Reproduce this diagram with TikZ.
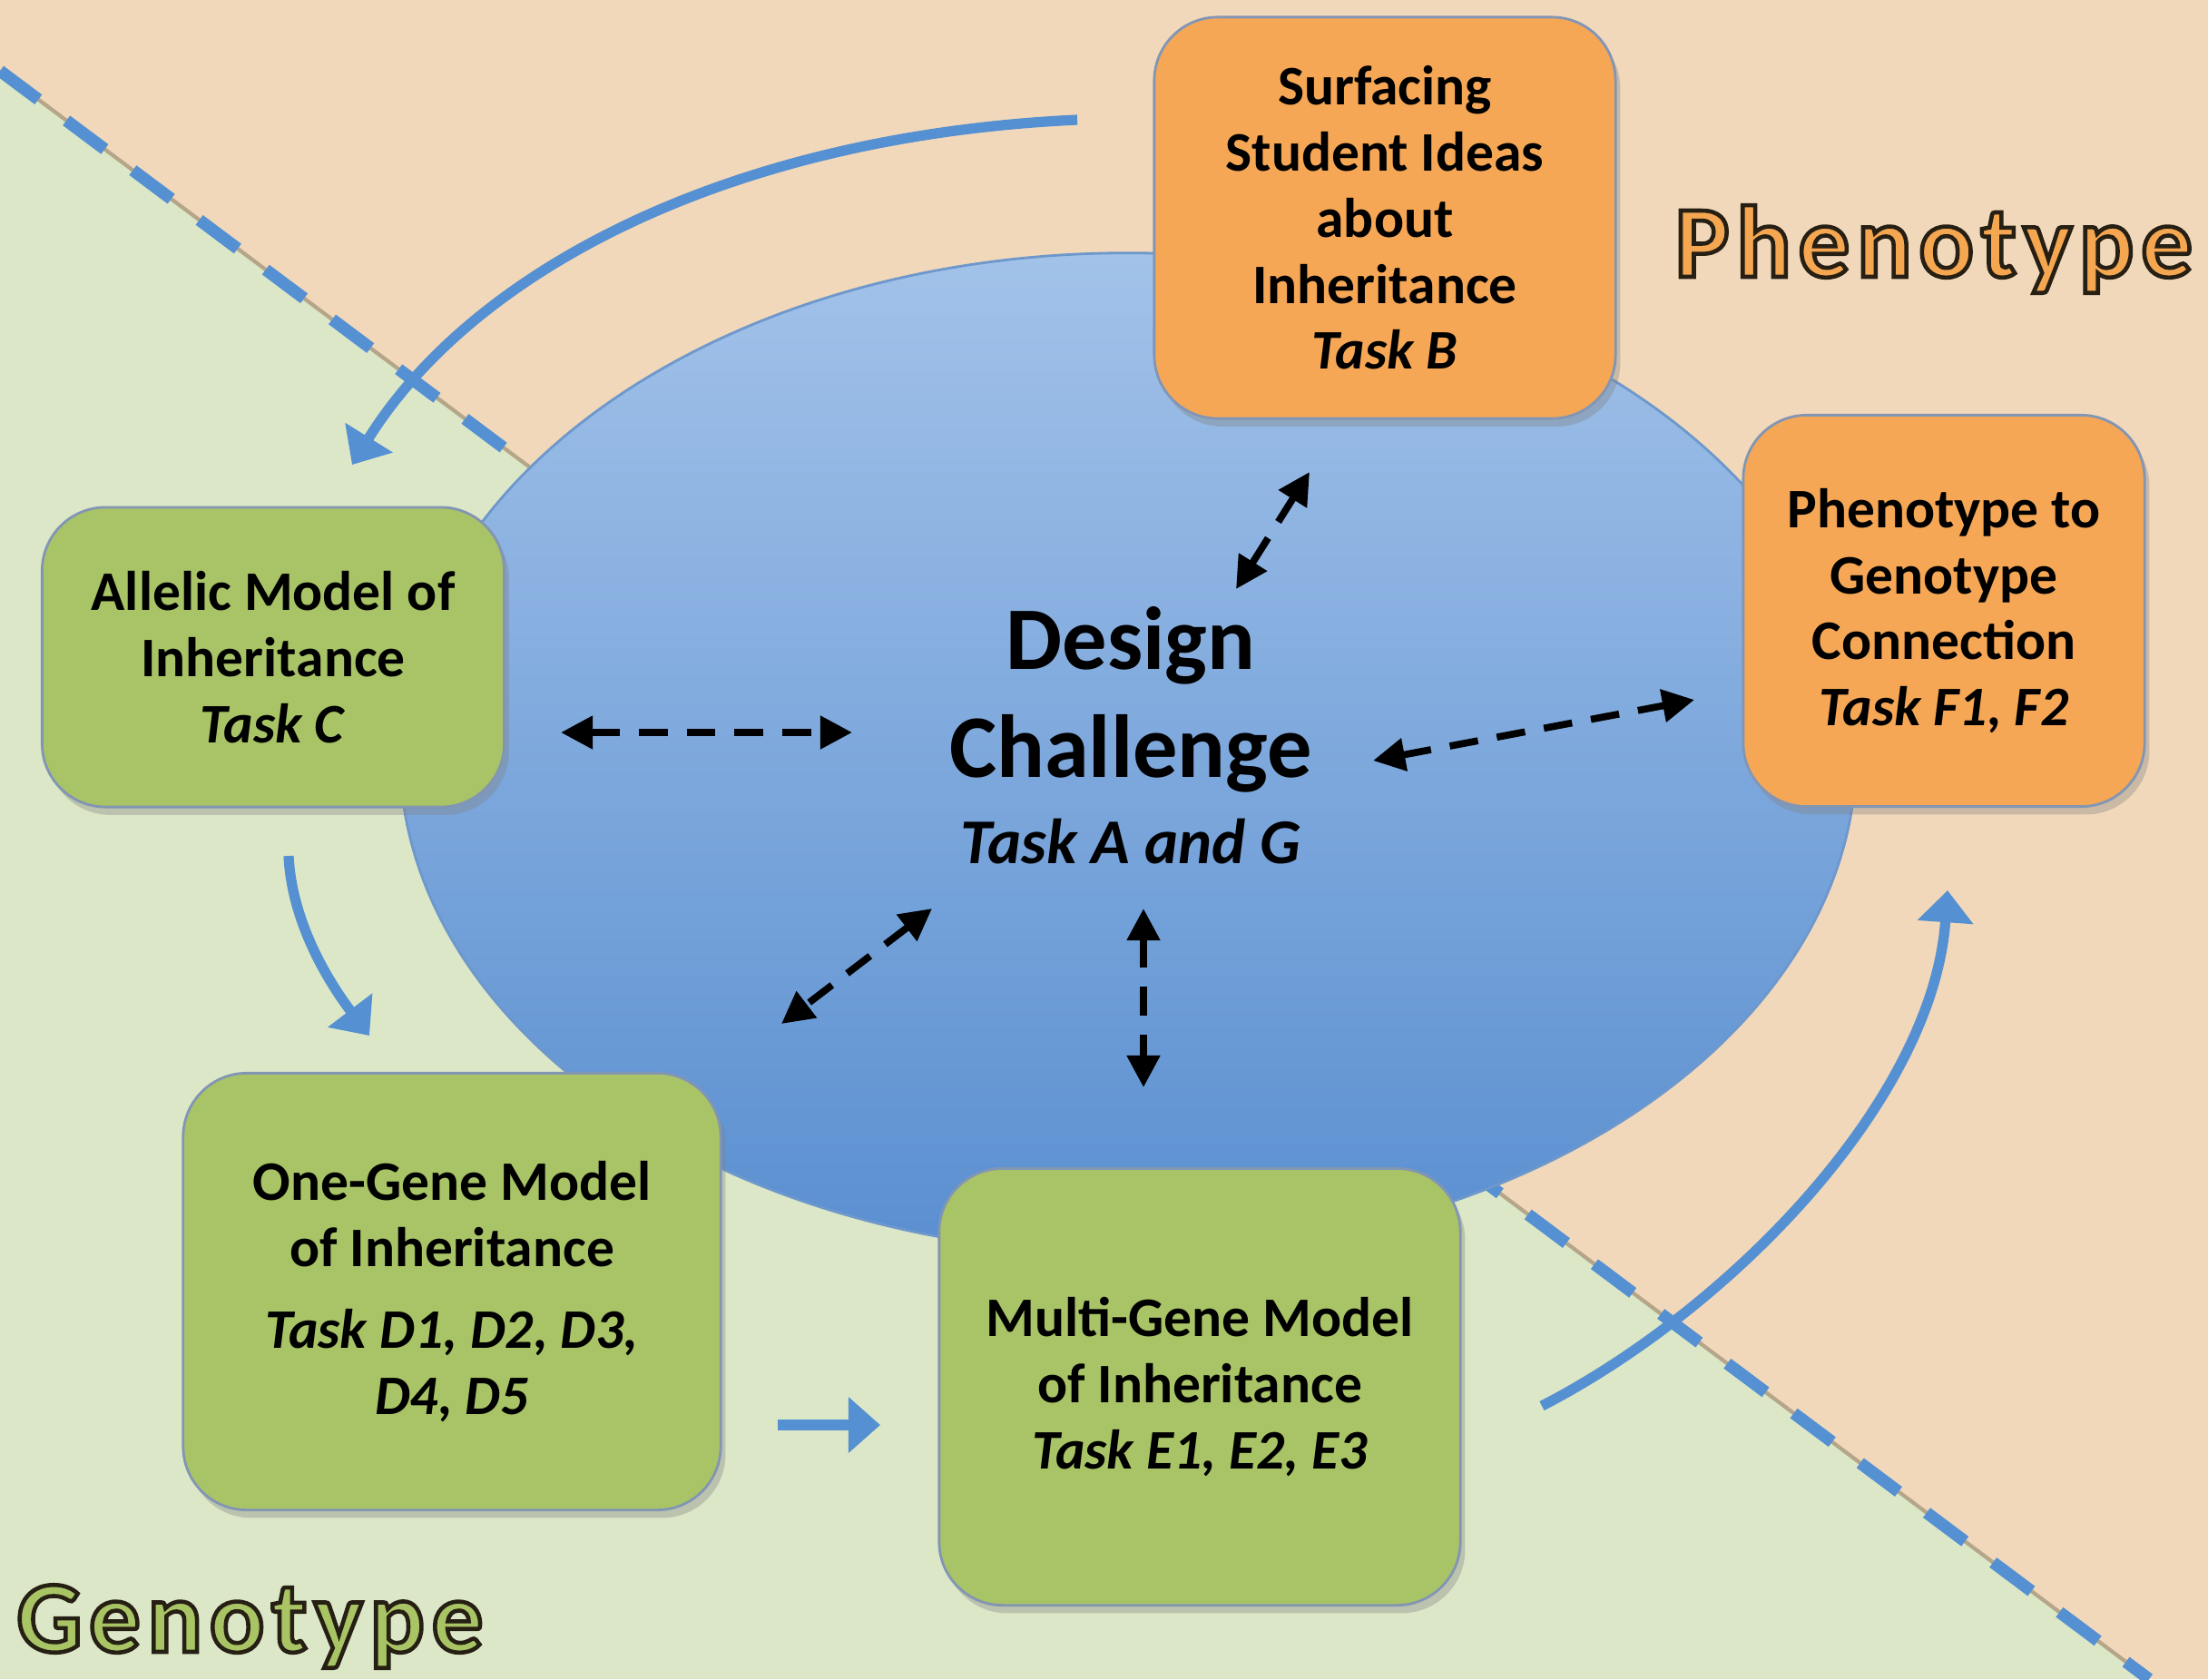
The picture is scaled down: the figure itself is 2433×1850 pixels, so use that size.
\documentclass[tikz,border=0pt]{standalone}
\usepackage{fontspec}
\setmainfont{Carlito}
\newfontfamily\spacedfont[LetterSpace=7]{Carlito}
\usepackage{tikz}
\usetikzlibrary{arrows.meta,shapes.geometric,shadows}

\definecolor{peach}{HTML}{F1D8BA}
\definecolor{palegreen}{HTML}{DCE7C8}
\definecolor{boxorange}{HTML}{F6A756}
\definecolor{boxgreen}{HTML}{A9C466}
\definecolor{boxedge}{HTML}{8296B4}
\definecolor{flowblue}{HTML}{5590D2}
\definecolor{ovaltop}{HTML}{A2C2E9}
\definecolor{ovalbottom}{HTML}{5A8FD0}
\definecolor{ovaledge}{HTML}{6E98CC}
\definecolor{bordertan}{HTML}{B5A68A}
\definecolor{textorange}{HTML}{F5A650}
\definecolor{textgreen}{HTML}{A8C464}

\newcommand{\outlined}[2]{\textcolor{#1}{\special{pdf:literal direct 0.15 0.12 0.08 RG 2 Tr 1.3 w}#2\special{pdf:literal direct 0 Tr}}}

\begin{document}
\begin{tikzpicture}[x=0.01cm,y=-0.01cm,
    box/.style={draw=boxedge, line width=0.8pt, rounded corners=0.7cm, align=center,
        font=\bfseries\fontsize{17.5}{20.7}\selectfont,
        drop shadow={opacity=0.35, shadow xshift=1.5pt, shadow yshift=-2.5pt}},
    orangebox/.style={box, fill=boxorange},
    greenbox/.style={box, fill=boxgreen},
    flow/.style={draw=flowblue, line width=3.2pt, -{Triangle[length=10pt,width=17pt]}},
    link/.style={line width=2.2pt, dash pattern=on 9pt off 6pt,
        {Triangle[length=10pt,width=10pt]}-{Triangle[length=10pt,width=10pt]}},
    biglabel/.style={font=\spacedfont\bfseries\fontsize{32}{36}\selectfont, anchor=base west, inner sep=0pt}]
    \useasboundingbox (0,0) rectangle (2433,1850);

    \fill[peach] (0,0) -- (2433,0) -- (2433,1850) -- (2368,1850) -- (0,78) -- cycle;
    \fill[palegreen] (0,78) -- (2368,1850) -- (0,1850) -- cycle;
    \draw[bordertan, line width=1.2pt] (0,78) -- (2368,1850);
    \draw[flowblue, line width=3.8pt, dash pattern=on 15pt off 11pt] (0,78) -- (2368,1850);

    \node[ellipse, minimum width=16.04cm, minimum height=11.02cm, top color=ovaltop, bottom color=ovalbottom, draw=ovaledge, line width=0.8pt] (oval) at (1243,830) {};
    \node[align=center, font=\bfseries\fontsize{28}{34}\selectfont] (dc) at (1246,810) {Design\\Challenge\\[-7pt]{\fontsize{20}{24}\selectfont\itshape Task A and G}};

    \node[biglabel] (phenolab) at (1845,305) {\outlined{textorange}{Phenotype}};
    \node[biglabel] (genolab) at (18,1820) {\outlined{textgreen}{Genotype}};

    \coordinate (b1s) at (1187,132);  \coordinate (b1e) at (388,512);
    \coordinate (b2s) at (318,943);   \coordinate (b2e) at (407,1141);
    \coordinate (b3s) at (857,1570);  \coordinate (b3e) at (970,1570);
    \coordinate (b4s) at (1699,1549); \coordinate (b4e) at (2146,981);
    \draw[flow] (b1s) .. controls (800,150) and (520,300) .. (b1e);
    \draw[flow] (b2s) .. controls (322,1025) and (372,1095) .. (b2e);
    \draw[flow] (b3s) -- (b3e);
    \draw[flow] (b4s) .. controls (1910,1440) and (2130,1210) .. (b4e);

    \node[orangebox, minimum width=5.08cm, minimum height=4.42cm] (surf) at (1526,240) {Surfacing\\Student Ideas\\about\\Inheritance\\\textit{Task B}};
    \node[orangebox, minimum width=4.42cm, minimum height=4.31cm] (pheno) at (2142,673) {Phenotype to\\Genotype\\Connection\\\textit{Task F1, F2}};
    \node[greenbox, minimum width=5.09cm, minimum height=3.30cm] (allelic) at (301,724) {Allelic Model of\\Inheritance\\\textit{Task C}};
    \node[greenbox, minimum width=5.92cm, minimum height=4.81cm] (onegene) at (498,1423) {One-Gene Model\\of Inheritance\\[5pt]\textit{Task D1, D2, D3,}\\\textit{D4, D5}};
    \node[greenbox, minimum width=5.74cm, minimum height=4.81cm] (multigene) at (1322,1528) {Multi-Gene Model\\of Inheritance\\\textit{Task E1, E2, E3}};

    \coordinate (l1a) at (1443,520);  \coordinate (l1b) at (1362,649);
    \coordinate (l2a) at (618,807);   \coordinate (l2b) at (939,807);
    \coordinate (l3a) at (1513,838);  \coordinate (l3b) at (1867,771);
    \coordinate (l4a) at (1027,1001); \coordinate (l4b) at (861,1128);
    \coordinate (l5a) at (1260,1001); \coordinate (l5b) at (1260,1198);
    \draw[link] (l1a) -- (l1b);
    \draw[link] (l2a) -- (l2b);
    \draw[link] (l3a) -- (l3b);
    \draw[link] (l4a) -- (l4b);
    \draw[link] (l5a) -- (l5b);
\end{tikzpicture}
\end{document}
